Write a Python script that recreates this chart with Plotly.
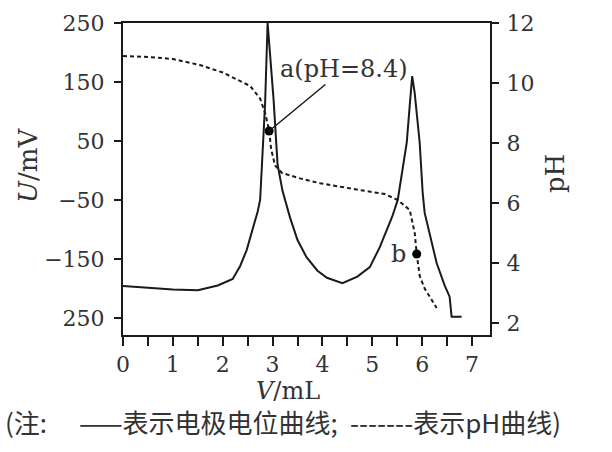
import plotly.graph_objects as go

# Electrode potential curve (solid), U in mV vs V in mL
v_u = [0, 0.5, 1.0, 1.5, 1.9, 2.2, 2.35, 2.48, 2.6, 2.7, 2.75, 2.8, 2.85, 2.9,
       3.02, 3.1, 3.2, 3.35, 3.5, 3.68, 3.9, 4.09, 4.4, 4.7, 4.95, 5.15, 5.29,
       5.4, 5.51, 5.6, 5.69, 5.75, 5.8, 5.85, 5.95, 6.01, 6.05, 6.29, 6.45,
       6.55, 6.59, 6.79]
u_mv = [-196, -199, -202, -203, -195, -184, -162, -135, -101, -70, -50, 35, 114, 250,
        120, 10, -35, -80, -118, -147, -170, -182, -191, -180, -164, -130, -101,
        -78, -50, 0, 47, 110, 160, 131, 47, -38, -72, -157, -195,
        -214, -248, -248]

# pH curve (dashed)
v_ph = [0, 0.5, 1.0, 1.54, 2.0, 2.35, 2.55, 2.75, 2.85, 2.93, 2.97, 3.05, 3.19,
        3.55, 3.95, 4.75, 5.25, 5.51, 5.75, 5.85, 5.89, 5.95, 6.05, 6.29]
ph = [10.9, 10.87, 10.8, 10.6, 10.35, 10.07, 9.9, 9.48, 9.0, 8.43, 7.8, 7.25, 7.0,
      6.82, 6.66, 6.43, 6.3, 6.1, 5.77, 5.0, 4.3, 3.57, 3.15, 2.5]

# Marked points a and b (on pH curve)
pt_v = [2.93, 5.89]
pt_ph = [8.4, 4.3]

x_ticks = [0, 1, 2, 3, 4, 5, 6, 7]
u_ticks = [250, 150, 50, -50, -150, -250]
u_ticktext = ["250", "150", "50", "\u221250", "\u2212150", "250"]
ph_ticks = [2, 4, 6, 8, 10, 12]

# note under the chart, in pieces
note_parts = ["(注:", "——表示电极电位曲线;", "-------表示pH曲线)"]
note_x = [-0.327, -0.1253, 0.613]

INK = "#1a1a1a"
TXT = "#333333"
SERIF = "DejaVu Serif"
CJK = "Noto Sans CJK SC"

fig = go.Figure()
fig.add_trace(go.Scatter(x=v_u, y=u_mv, mode="lines",
                         line=dict(color=INK, width=2), yaxis="y"))
fig.add_trace(go.Scatter(x=v_ph, y=ph, mode="lines",
                         line=dict(color=INK, width=2, dash="4px,3px"), yaxis="y2"))
fig.add_trace(go.Scatter(x=pt_v, y=pt_ph, mode="markers",
                         marker=dict(color="black", size=9), yaxis="y2"))

fig.update_layout(
    width=612, height=452,
    margin=dict(l=123, r=122, t=23, b=117),
    paper_bgcolor="white", plot_bgcolor="white",
    showlegend=False,
    font=dict(family=SERIF, size=22, color=TXT),
    xaxis=dict(range=[0, 7.36], tickvals=x_ticks, ticks="outside", ticklen=9,
               tickwidth=2, tickcolor=INK, showline=True, linewidth=2,
               linecolor=INK, mirror=True, showgrid=False, zeroline=False,
               minor=dict(tickmode="linear", tick0=0, dtick=0.5, ticks="outside",
                          ticklen=9, tickwidth=2, tickcolor=INK, showgrid=False),
               tickfont=dict(family=SERIF, size=22, color=TXT)),
    yaxis=dict(range=[-279, 250], tickvals=u_ticks, ticktext=u_ticktext,
               ticks="outside", ticklen=7, tickwidth=2, tickcolor=INK,
               showline=True, linewidth=2, linecolor=INK, showgrid=False,
               zeroline=False, ticklabelstandoff=5,
               tickfont=dict(family=SERIF, size=22, color=TXT)),
    yaxis2=dict(range=[1.6, 12], tickvals=ph_ticks, overlaying="y", side="right",
                ticks="outside", ticklen=7, tickwidth=2, tickcolor=INK,
                showline=True, linewidth=2, linecolor=INK, showgrid=False,
                zeroline=False, ticklabelstandoff=3,
                tickfont=dict(family=SERIF, size=22, color=TXT)),
)

# point labels
fig.add_annotation(x=pt_v[0], y=pt_ph[0], xref="x", yref="y2",
                   text="a(pH=8.4)", showarrow=True, arrowhead=0, arrowwidth=1.5,
                   arrowcolor=INK, ax=75, ay=-62, standoff=0,
                   font=dict(family=SERIF, size=24, color=TXT))
fig.add_annotation(x=pt_v[1], y=pt_ph[1], xref="x", yref="y2",
                   text="b", showarrow=False, xshift=-18,
                   font=dict(family=SERIF, size=24, color=TXT))

# axis titles
fig.add_annotation(x=-0.259, y=0.545, xref="paper", yref="paper",
                   xanchor="center", yanchor="middle",
                   text="<i>U</i>/mV", textangle=-90, showarrow=False,
                   font=dict(family=SERIF, size=26, color=TXT))
fig.add_annotation(x=1.177, y=0.519, xref="paper", yref="paper",
                   xanchor="center", yanchor="middle",
                   text="pH", textangle=-90, showarrow=False,
                   font=dict(family=SERIF, size=26, color=TXT))
fig.add_annotation(x=0.45, y=-0.179, xref="paper", yref="paper",
                   xanchor="center", yanchor="middle",
                   text="<i>V</i>/mL", showarrow=False,
                   font=dict(family=SERIF, size=24, color=TXT))
for txt, nx in zip(note_parts, note_x):
    fig.add_annotation(x=nx, y=-0.276, xref="paper", yref="paper",
                       xanchor="left", yanchor="middle",
                       text=txt, showarrow=False,
                       font=dict(family=CJK, size=26, color=TXT))

fig.write_html("out.html", config={"displayModeBar": False},
               post_script="document.body.style.margin='0';")
